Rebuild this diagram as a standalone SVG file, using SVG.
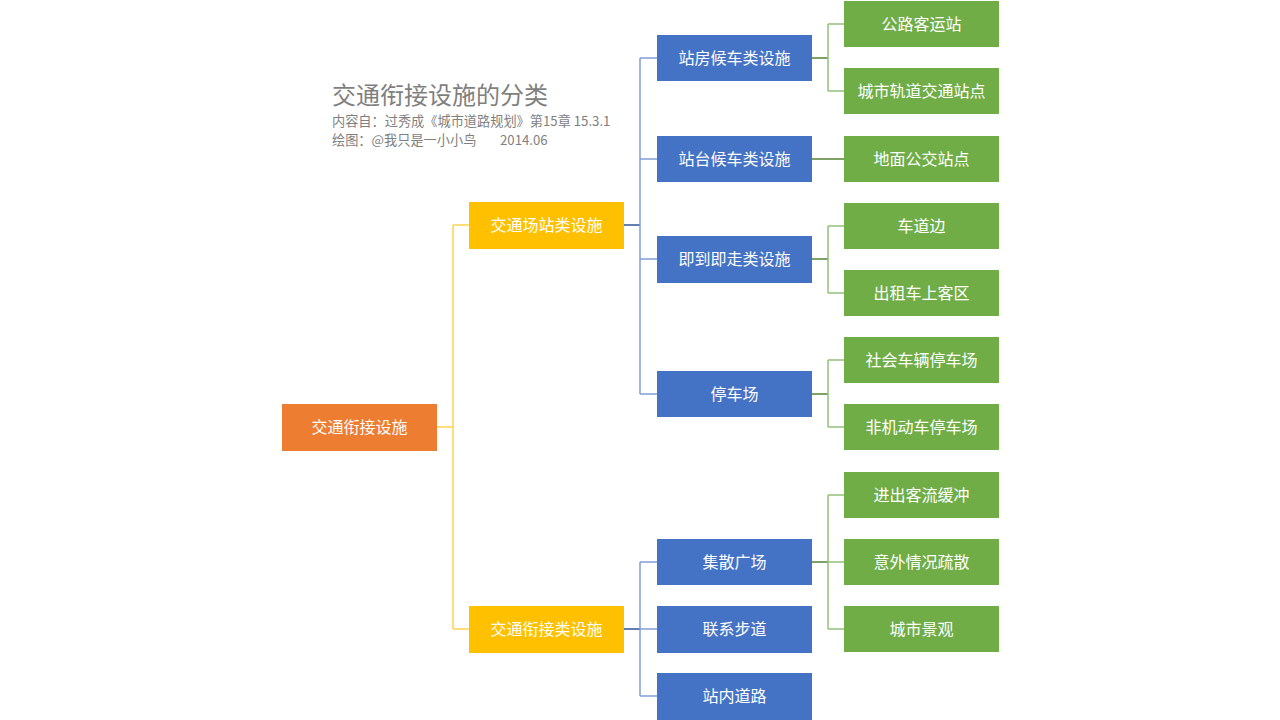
<svg xmlns="http://www.w3.org/2000/svg" width="1280" height="720" viewBox="0 0 1280 720">
<style>
text{font-family:"Noto Sans CJK SC","Noto Sans",sans-serif}
.t{fill:#fff;font-size:16px;text-anchor:middle;dominant-baseline:central}
.o{fill:#ED7D31}.y{fill:#FFC000}.b{fill:#4472C4}.g{fill:#70AD47}
.cy{stroke:#FFD24D;stroke-width:1.5;fill:none}
.cb{stroke:#7F9FD6;stroke-width:1.5;fill:none}
.cbd{stroke:#2F5597;stroke-width:1.5;fill:none}
.cg{stroke:#93C17A;stroke-width:1.5;fill:none}
.cgd{stroke:#548235;stroke-width:1.5;fill:none}
.h1{fill:#7F7F7F;font-size:24px}
.h2{fill:#7F7F7F;font-size:13.2px}
</style>
<rect width="1280" height="720" fill="#fff"/>
<g id="title">
<text class="h1" x="332" y="104">交通衔接设施的分类</text>
<text class="h2" x="332" y="126">内容自：过秀成《城市道路规划》第15章 15.3.1</text>
<text class="h2" x="332" y="144.5">绘图：@我只是一小小鸟<tspan x="500">2014.06</tspan></text>
</g>
<g id="connectors">
<path class="cy" d="M437 427H453M453 225V629M453 225H469M453 629H469"/>
<path class="cbd" d="M624 225H640M624 629H640"/>
<path class="cb" d="M640 58V394M640 58H657M640 159H657M640 259H657M640 394H657"/>
<path class="cb" d="M640 562V696M640 562H657M640 629H657M640 696H657"/>
<path class="cgd" d="M812 58H828M812 159H844M812 259H828M812 394H828M812 562H828"/>
<path class="cg" d="M828 24V91M828 24H844M828 91H844"/>
<path class="cg" d="M828 226V293M828 226H844M828 293H844"/>
<path class="cg" d="M828 360V427M828 360H844M828 427H844"/>
<path class="cg" d="M828 495V629M828 495H844M828 562H844M828 629H844"/>
</g>
<g id="n-root"><rect class="o" x="282" y="404" width="155" height="47"/><text class="t" x="359.5" y="426">交通衔接设施</text></g>
<g id="n-y1"><rect class="y" x="469" y="202" width="155" height="47"/><text class="t" x="546.5" y="224">交通场站类设施</text></g>
<g id="n-y2"><rect class="y" x="469" y="606" width="155" height="47"/><text class="t" x="546.5" y="628">交通衔接类设施</text></g>
<g id="n-b1"><rect class="b" x="657" y="35" width="155" height="46"/><text class="t" x="734.5" y="56.5">站房候车类设施</text></g>
<g id="n-b2"><rect class="b" x="657" y="136" width="155" height="46"/><text class="t" x="734.5" y="157.5">站台候车类设施</text></g>
<g id="n-b3"><rect class="b" x="657" y="236" width="155" height="47"/><text class="t" x="734.5" y="258">即到即走类设施</text></g>
<g id="n-b4"><rect class="b" x="657" y="371" width="155" height="46"/><text class="t" x="734.5" y="392.5">停车场</text></g>
<g id="n-b5"><rect class="b" x="657" y="539" width="155" height="46"/><text class="t" x="734.5" y="560.5">集散广场</text></g>
<g id="n-b6"><rect class="b" x="657" y="606" width="155" height="47"/><text class="t" x="734.5" y="628">联系步道</text></g>
<g id="n-b7"><rect class="b" x="657" y="673" width="155" height="47"/><text class="t" x="734.5" y="695">站内道路</text></g>
<g id="n-g1"><rect class="g" x="844" y="1" width="155" height="46"/><text class="t" x="921.5" y="22.5">公路客运站</text></g>
<g id="n-g2"><rect class="g" x="844" y="68" width="155" height="46"/><text class="t" x="921.5" y="89.5">城市轨道交通站点</text></g>
<g id="n-g3"><rect class="g" x="844" y="136" width="155" height="46"/><text class="t" x="921.5" y="157.5">地面公交站点</text></g>
<g id="n-g4"><rect class="g" x="844" y="203" width="155" height="46"/><text class="t" x="921.5" y="224.5">车道边</text></g>
<g id="n-g5"><rect class="g" x="844" y="270" width="155" height="46"/><text class="t" x="921.5" y="291.5">出租车上客区</text></g>
<g id="n-g6"><rect class="g" x="844" y="337" width="155" height="46"/><text class="t" x="921.5" y="358.5">社会车辆停车场</text></g>
<g id="n-g7"><rect class="g" x="844" y="404" width="155" height="46"/><text class="t" x="921.5" y="425.5">非机动车停车场</text></g>
<g id="n-g8"><rect class="g" x="844" y="472" width="155" height="46"/><text class="t" x="921.5" y="493.5">进出客流缓冲</text></g>
<g id="n-g9"><rect class="g" x="844" y="539" width="155" height="46"/><text class="t" x="921.5" y="560.5">意外情况疏散</text></g>
<g id="n-g10"><rect class="g" x="844" y="606" width="155" height="46"/><text class="t" x="921.5" y="627.5">城市景观</text></g>
</svg>
